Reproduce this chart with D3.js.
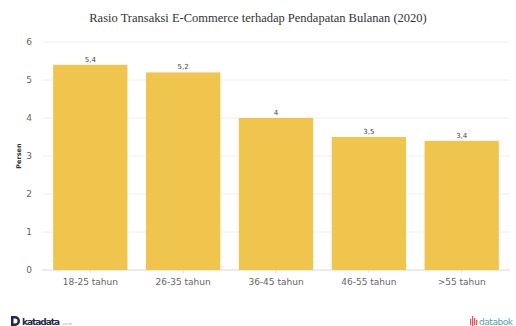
<!DOCTYPE html>
<html>
<head>
<meta charset="utf-8">
<script src="https://cdn.jsdelivr.net/npm/d3@7"></script>
<style>
  body { margin: 0; background: #fff; }
  svg { display: block; }
</style>
</head>
<body>
<div class="chart"></div>
<script>
const categories = [`18-25 tahun`, `26-35 tahun`, `36-45 tahun`, `46-55 tahun`, `>55 tahun`];
const values = [5.4, 5.2, 4, 3.5, 3.4];
const valueLabels = [`5,4`, `5,2`, `4`, `3,5`, `3,4`];
const yTicks = [0, 1, 2, 3, 4, 5, 6];

const W = 516, H = 326;
const margin = { top: 42, right: 6, bottom: 56, left: 42 };
const width = W - margin.left - margin.right;
const height = H - margin.top - margin.bottom;

const svg = d3.select(`.chart`).append(`svg`)
  .attr(`width`, W)
  .attr(`height`, H);

// title
svg.append(`text`)
  .attr(`x`, W / 2)
  .attr(`y`, 22)
  .attr(`text-anchor`, `middle`)
  .attr(`font-family`, `Liberation Serif, serif`)
  .attr(`font-size`, 12.5)
  .attr(`fill`, `#333`)
  .text(`Rasio Transaksi E-Commerce terhadap Pendapatan Bulanan (2020)`);

const g = svg.append(`g`)
  .attr(`transform`, `translate(${margin.left},${margin.top})`);

const x = d3.scaleBand()
  .domain(categories)
  .range([0, width])
  .paddingInner(0.2)
  .paddingOuter(0.12);
const y = d3.scaleLinear()
  .domain([0, 6])
  .range([height, 0]);

// grid lines
g.append(`g`)
  .selectAll(`line`)
  .data(yTicks)
  .enter().append(`line`)
    .attr(`x1`, 0)
    .attr(`x2`, width)
    .attr(`y1`, d => y(d))
    .attr(`y2`, d => y(d))
    .attr(`stroke`, d => d === 0 ? `#d8d8d8` : `#eeeeee`)
    .attr(`stroke-width`, 1);

// bars
g.selectAll(`.bar`)
  .data(values)
  .enter().append(`rect`)
    .attr(`class`, `bar`)
    .attr(`x`, (d, i) => x(categories[i]))
    .attr(`width`, x.bandwidth())
    .attr(`y`, d => y(d))
    .attr(`height`, d => height - y(d))
    .attr(`fill`, `#f0c54e`);

// value labels
g.selectAll(`.val`)
  .data(values)
  .enter().append(`text`)
    .attr(`x`, (d, i) => x(categories[i]) + x.bandwidth() / 2)
    .attr(`y`, d => y(d) - 3)
    .attr(`text-anchor`, `middle`)
    .attr(`font-family`, `DejaVu Sans, sans-serif`)
    .attr(`font-size`, 7)
    .attr(`fill`, `#444`)
    .text((d, i) => valueLabels[i]);

// y axis
const yAxis = g.append(`g`)
  .call(d3.axisLeft(y).tickValues(yTicks).tickSize(0).tickPadding(10).tickFormat(d3.format(`d`)));
yAxis.select(`.domain`).remove();
yAxis.selectAll(`text`)
  .attr(`font-family`, `DejaVu Sans, sans-serif`)
  .attr(`font-size`, 9)
  .attr(`fill`, `#666`);

// x axis
const xAxis = g.append(`g`)
  .attr(`transform`, `translate(0,${height})`)
  .call(d3.axisBottom(x).tickSize(3).tickPadding(6));
xAxis.select(`.domain`).remove();
xAxis.selectAll(`line`).attr(`stroke`, `#ddd`);
xAxis.selectAll(`text`)
  .attr(`font-family`, `DejaVu Sans, sans-serif`)
  .attr(`font-size`, 9)
  .attr(`fill`, `#666`);

// y axis title
svg.append(`text`)
  .attr(`transform`, `translate(21,${margin.top + height / 2}) rotate(-90)`)
  .attr(`text-anchor`, `middle`)
  .attr(`font-family`, `DejaVu Sans, sans-serif`)
  .attr(`font-size`, 6.5)
  .attr(`font-weight`, `bold`)
  .attr(`fill`, `#333`)
  .text(`Persen`);

// footer: katadata
const kd = svg.append(`g`).attr(`transform`, `translate(11,316)`);
kd.append(`path`)
  .attr(`d`, `M0,0 H4 A5,5 0 0 1 4,10 H0 Z M2.5,2.5 V7.5 H4 A2.5,2.5 0 0 0 4,2.5 Z`)
  .attr(`fill`, `#1c2a4a`)
  .attr(`fill-rule`, `evenodd`);
kd.append(`text`)
  .attr(`x`, 11)
  .attr(`y`, 9)
  .attr(`font-family`, `DejaVu Sans, sans-serif`)
  .attr(`font-size`, 9)
  .attr(`font-weight`, `bold`)
  .attr(`textLength`, 38)
  .attr(`fill`, `#1c2a4a`)
  .text(`katadata`);
kd.append(`text`)
  .attr(`x`, 51)
  .attr(`y`, 9)
  .attr(`font-family`, `DejaVu Sans, sans-serif`)
  .attr(`font-size`, 3.5)
  .attr(`fill`, `#999`)
  .text(`.co.id`);

// footer: databok
const db = svg.append(`g`).attr(`transform`, `translate(470,316)`);
[[0, 3, 6], [2, 0, 10], [4, 2, 7], [6, 4, 5]].forEach(([dx, y0, h]) => {
  db.append(`rect`).attr(`x`, dx).attr(`y`, y0).attr(`width`, 1.3).attr(`height`, h).attr(`fill`, `#e8505b`);
});
db.append(`text`)
  .attr(`x`, 9)
  .attr(`y`, 9)
  .attr(`font-family`, `DejaVu Sans, sans-serif`)
  .attr(`font-size`, 9)
  .attr(`textLength`, 34)
  .attr(`fill`, `#4fa3a8`)
  .text(`databok`);
</script>
</body>
</html>
